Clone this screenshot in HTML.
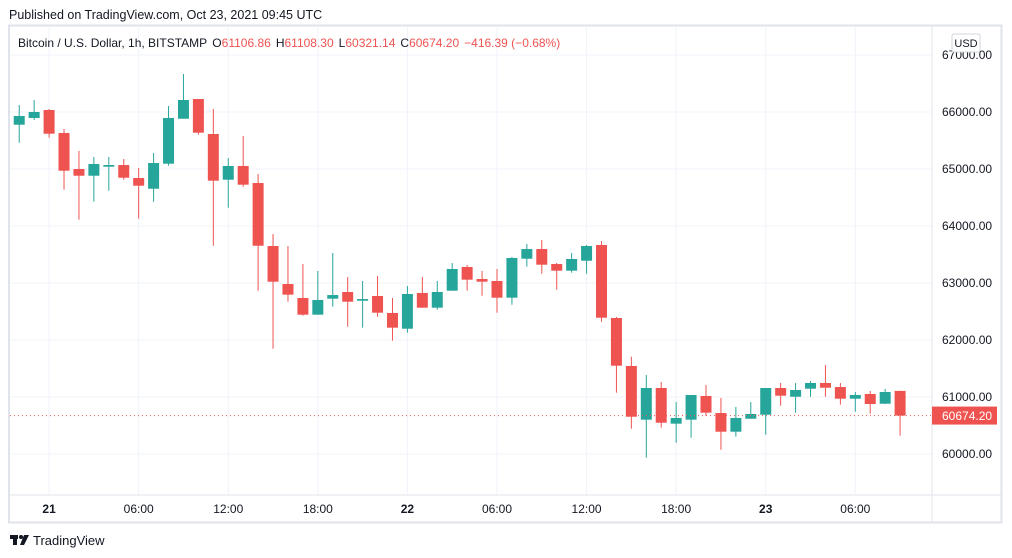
<!DOCTYPE html>
<html><head><meta charset="utf-8"><style>
body{margin:0;background:#fff;width:1012px;height:558px;overflow:hidden;font-family:"Liberation Sans",sans-serif}
</style></head><body>
<svg id="chart" width="1012" height="558" xmlns="http://www.w3.org/2000/svg" style="position:absolute;left:0;top:0">
<text x="9" y="19" font-size="12.5" fill="#131722">Published on TradingView.com, Oct 23, 2021 09:45 UTC</text>
<rect x="9" y="25.5" width="992.5" height="497" fill="none" stroke="#e0e3eb" stroke-width="2"/>
<g id="grid"></g>
<defs><clipPath id="pc"><rect x="10" y="27" width="922" height="468"/></clipPath></defs>
<g id="candles" clip-path="url(#pc)"></g>
<line x1="932" y1="26" x2="932" y2="522" stroke="#e0e3eb"/>
<line x1="10" y1="495" x2="1001" y2="495" stroke="#e0e3eb"/>
<g id="yaxis"></g>
<g id="xaxis"></g>
<text x="18" y="47" font-size="12" fill="#131722">Bitcoin / U.S. Dollar, 1h, BITSTAMP <tspan dx="2">O</tspan><tspan fill="#ef5350">61106.86</tspan><tspan dx="5">H</tspan><tspan fill="#ef5350">61108.30</tspan><tspan dx="5">L</tspan><tspan fill="#ef5350">60321.14</tspan><tspan dx="5">C</tspan><tspan fill="#ef5350">60674.20</tspan><tspan dx="5" fill="#ef5350">−416.39 (−0.68%)</tspan></text>
<rect x="952" y="34" width="28" height="18" rx="2" fill="#fff" stroke="#d1d4dc"/>
<text x="966" y="47" font-size="11" fill="#131722" text-anchor="middle">USD</text>
<g>
<rect x="10" y="535" width="8" height="4" fill="#131722"/><rect x="13" y="535" width="4" height="10" fill="#131722"/>
<circle cx="21" cy="537" r="2" fill="#131722"/><polygon points="24,535 29,535 24,545 20,545" fill="#131722"/>
<text x="33" y="545" font-size="13" fill="#131722">TradingView</text></g>
</svg>
<script>
const opens=[66000,65777,65895,66035,65632,65000,64882,65040,65070,64842,64654,65093,65882,66228,65614,64812,65053,64754,63649,62982,62737,62444,62725,62842,62689,62772,62474,62198,62825,62567,62865,63281,63070,63035,62742,63426,63596,63333,63216,63391,63667,62386,61544,60602,61158,60532,60602,61018,60719,60391,60619,60689,61158,61005,61146,61246,61175,60970,61053,60882,61106.86];
const highs=[66050,66123,66211,66053,65702,65316,65211,65211,65175,65018,65281,66105,66667,66228,66053,65193,65579,64912,63860,63649,63333,63211,63526,63105,63035,63123,62737,62947,63105,63035,63351,63316,63211,63246,63456,63684,63754,63351,63526,63667,63737,62404,61707,61386,61263,60912,61035,61211,60982,60825,60912,61158,61246,61246,61281,61561,61246,61088,61105,61140,61108.30];
const lows=[65800,65461,65860,65549,64637,64111,64426,64619,64812,64128,64426,65058,65882,65602,63654,64321,64689,62865,61847,62672,62426,62444,62584,62233,62216,62409,61988,62128,62567,62532,62865,62865,62777,62479,62619,63286,63163,62882,63181,63163,62321,61075,60444,59935,60461,60198,60286,60670,60075,60304,60619,60339,60847,60725,61005,61005,60865,60742,60707,60877,60321.14];
const closes=[65825,65930,66000,65619,64970,64882,65088,65070,64847,64707,65105,65895,66211,65637,64795,65053,64725,63654,63023,62795,62444,62702,62789,62672,62719,62479,62216,62807,62567,62842,63246,63058,63023,62742,63439,63596,63321,63216,63421,63649,62391,61549,60654,61158,60549,60632,61035,60725,60391,60632,60702,61158,61023,61123,61246,61163,60970,61035,60877,61088,60674.20];
const priceTicks=[60000,61000,62000,63000,64000,65000,66000,67000];
const timeTicks=["21","06:00","12:00","18:00","22","06:00","12:00","18:00","23","06:00"];
const timeTickHours=[3,9,15,21,27,33,39,45,51,57];
const lastPrice=60674.20;
const NS="http://www.w3.org/2000/svg";
function y(p){return 454+(60000-p)*0.057;}
function x(i){return 4.3+i*14.93;}
function mk(t,a,parent){const e=document.createElementNS(NS,t);for(const k in a)e.setAttribute(k,a[k]);parent.appendChild(e);return e;}
const grid=document.getElementById('grid'),cg=document.getElementById('candles'),ya=document.getElementById('yaxis'),xa=document.getElementById('xaxis');
priceTicks.forEach(p=>{
 const l=mk('line',{x1:10,x2:932,y1:y(p),y2:y(p),stroke:'#f0f3fa'},grid);
 
 
 const t=mk('text',{x:942,y:y(p)+4,'font-size':12,fill:'#131722'},ya);
 t.textContent=p.toFixed(2);
 
 
});
timeTicks.forEach((s,k)=>{
 const xx=x(timeTickHours[k]);
 const l=mk('line',{x1:xx,x2:xx,y1:27,y2:495,stroke:'#f0f3fa'},grid);
 
 
 const t=mk('text',{x:xx,y:513,'font-size':12,fill:'#131722','text-anchor':'middle','font-weight':s.length<3?'bold':'normal'},xa);
 t.textContent=s;
 
 
});
opens.forEach((o,i)=>{
 const c=closes[i],up=c>=o,col=up?'#26a69a':'#ef5350',cx=x(i);
 const g=mk('g',{},cg);
 
 
 mk('line',{x1:cx,x2:cx,y1:y(highs[i]),y2:y(lows[i]),stroke:col,'stroke-width':1},g);
 const top=y(Math.max(o,c)),bot=y(Math.min(o,c));
 mk('rect',{x:cx-5.5,y:top,width:11,height:Math.max(1,bot-top),fill:col},g);
});
const ly=y(lastPrice);
const pl=mk('line',{x1:10,x2:932,y1:ly,y2:ly,stroke:'#ef5350','stroke-dasharray':'1 3'},cg);


const lb=mk('rect',{x:932,y:ly-9,width:65,height:18,fill:'#ef5350'},ya);


const lt=mk('text',{x:942,y:ly+4.5,'font-size':12,fill:'#fff'},ya);
lt.textContent=lastPrice.toFixed(2);


</script>
</body></html>
